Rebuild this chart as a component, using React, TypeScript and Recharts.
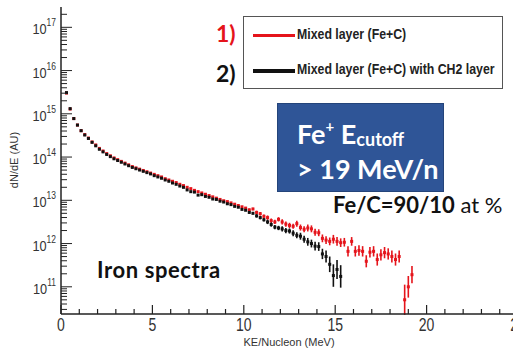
import { ComposedChart, ErrorBar, Scatter, XAxis, YAxis } from 'recharts'

// KE per nucleon (MeV) bins
const blackEnergy = [
  0.3, 0.5, 0.7, 0.9, 1.1, 1.3, 1.5, 1.7, 1.9, 2.1, 2.3, 2.5, 2.7, 2.9, 3.1, 3.3, 3.5, 3.7, 3.9, 4.1,
  4.3, 4.5, 4.7, 4.9, 5.1, 5.3, 5.5, 5.7, 5.9, 6.1, 6.3, 6.5, 6.7, 6.9, 7.1, 7.3, 7.5, 7.7, 7.9, 8.1,
  8.3, 8.5, 8.7, 8.9, 9.1, 9.3, 9.5, 9.7, 9.9, 10.1, 10.3, 10.5, 10.7, 10.9, 11.1, 11.3, 11.5, 11.7,
  11.9, 12.1, 12.3, 12.5, 12.7, 12.9, 13.1, 13.3, 13.5, 13.7, 13.9, 14.1, 14.3, 14.5, 14.7, 14.9,
  15.1, 15.3,
]
// log10(dN/dE), mixed layer with CH2 layer
const blackLog = [
  15.49, 15.12, 14.89, 14.74, 14.61, 14.51, 14.43, 14.34, 14.26, 14.18, 14.12, 14.06, 14.01, 13.96,
  13.92, 13.88, 13.84, 13.8, 13.76, 13.73, 13.7, 13.67, 13.64, 13.61, 13.57, 13.54, 13.51, 13.47,
  13.44, 13.4, 13.37, 13.33, 13.3, 13.24, 13.2, 13.19, 13.12, 13.13, 13.09, 13.07, 13.03, 13.02,
  12.98, 12.96, 12.92, 12.9, 12.86, 12.84, 12.79, 12.77, 12.72, 12.7, 12.64, 12.6, 12.55, 12.5,
  12.44, 12.38, 12.36, 12.34, 12.3, 12.29, 12.24, 12.19, 12.17, 12.1, 12.04, 12.0, 11.94, 11.93,
  11.76, 11.7, 11.52, 11.26, 11.4, 11.24,
]
// error half-width in decades
const blackErr = [
  0, 0, 0, 0, 0, 0, 0, 0, 0, 0, 0, 0, 0, 0, 0, 0, 0, 0, 0, 0, 0, 0, 0, 0, 0, 0, 0, 0, 0, 0, 0, 0,
  0, 0, 0, 0, 0, 0, 0, 0, 0, 0, 0, 0, 0, 0, 0, 0, 0, 0, 0.03, 0.03, 0.04, 0.04, 0.04, 0.05, 0.05,
  0.05, 0.05, 0.06, 0.06, 0.06, 0.07, 0.07, 0.08, 0.08, 0.09, 0.09, 0.1, 0.1, 0.12, 0.14, 0.18,
  0.26, 0.22, 0.26,
]

const redEnergy = [
  0.3, 0.5, 0.7, 0.9, 1.1, 1.3, 1.5, 1.7, 1.9, 2.1, 2.3, 2.5, 2.7, 2.9, 3.1, 3.3, 3.5, 3.7, 3.9, 4.1,
  4.3, 4.5, 4.7, 4.9, 5.1, 5.3, 5.5, 5.7, 5.9, 6.1, 6.3, 6.5, 6.7, 6.9, 7.1, 7.3, 7.5, 7.7, 7.9, 8.1,
  8.3, 8.5, 8.7, 8.9, 9.1, 9.3, 9.5, 9.7, 9.9, 10.1, 10.3, 10.5, 10.7, 10.9, 11.1, 11.3, 11.5, 11.7,
  11.9, 12.1, 12.3, 12.5, 12.7, 12.9, 13.1, 13.3, 13.5, 13.7, 13.9, 14.1, 14.3, 14.5, 14.7, 14.9,
  15.1, 15.3, 15.5, 15.7, 15.9, 16.1, 16.3, 16.5, 16.7, 16.9, 17.1, 17.3, 17.5, 17.7, 17.9, 18.1,
  18.3, 18.5, 18.8, 19.0, 19.2,
]
// log10(dN/dE), mixed layer (Fe+C)
const redLog = [
  15.48, 15.11, 14.89, 14.74, 14.61, 14.52, 14.44, 14.35, 14.28, 14.2, 14.14, 14.08, 14.03, 13.98,
  13.94, 13.9, 13.86, 13.82, 13.78, 13.75, 13.72, 13.69, 13.66, 13.63, 13.6, 13.57, 13.54, 13.5,
  13.47, 13.44, 13.41, 13.37, 13.34, 13.3, 13.27, 13.23, 13.2, 13.17, 13.14, 13.11, 13.08, 13.05,
  13.02, 12.99, 12.97, 12.94, 12.91, 12.88, 12.85, 12.82, 12.78, 12.8, 12.72, 12.69, 12.63, 12.6,
  12.53, 12.5, 12.56, 12.5, 12.45, 12.42, 12.4, 12.46, 12.37, 12.33, 12.36, 12.34, 12.26, 12.25,
  12.12, 12.08, 12.05, 12.1, 12.05, 12.02, 12.03, 11.82, 12.05, 11.82, 11.84, 11.82, 11.59, 11.8,
  11.82, 11.63, 11.74, 11.79, 11.76, 11.7, 11.63, 11.7, 10.7, 11.0, 11.28,
]
const redErr = [
  0, 0, 0, 0, 0, 0, 0, 0, 0, 0, 0, 0, 0, 0, 0, 0, 0, 0, 0, 0, 0, 0, 0, 0, 0, 0, 0, 0, 0, 0, 0, 0,
  0, 0, 0, 0, 0, 0, 0, 0, 0, 0, 0, 0, 0, 0, 0, 0, 0, 0, 0.03, 0.03, 0.04, 0.04, 0.04, 0.05, 0.05,
  0.05, 0.05, 0.06, 0.06, 0.06, 0.06, 0.07, 0.07, 0.07, 0.08, 0.08, 0.08, 0.08, 0.09, 0.09, 0.09,
  0.1, 0.1, 0.1, 0.1, 0.12, 0.1, 0.12, 0.12, 0.12, 0.14, 0.12, 0.12, 0.14, 0.13, 0.13, 0.13, 0.14,
  0.14, 0.14, 0.35, 0.25, 0.2,
]

const xTicks = [0, 1, 2, 3, 4, 5, 6, 7, 8, 9, 10, 11, 12, 13, 14, 15, 16, 17, 18, 19, 20, 21, 22, 23, 24, 25]
const decades = [10, 11, 12, 13, 14, 15, 16, 17]
const minorSteps = [1, 2, 3, 4, 5, 6, 7, 8, 9]
const yDomain = [2.35e10, 2.95e17]

const RED = '#e5141b'
const BLACK = '#111'
const AXIS = '#222'

function toPoints(energy: number[], logs: number[], errs: number[]) {
  return energy.map((x, i) => {
    const y = Math.pow(10, logs[i])
    const e = errs[i]
    return { x, y, err: [y - y * Math.pow(10, -e), y * Math.pow(10, e) - y] }
  })
}

const redData = toPoints(redEnergy, redLog, redErr)
const blackData = toPoints(blackEnergy, blackLog, blackErr)

const yTicks: number[] = []
decades.forEach((d) =>
  minorSteps.forEach((m) => {
    const v = m * Math.pow(10, d)
    if (v >= yDomain[0] && v <= yDomain[1]) yTicks.push(v)
  })
)

const tickFont = "'Liberation Sans', Arial, sans-serif"
const noteFont = "Lato, 'Open Sans', sans-serif"

function XTick({ x, y, payload }: any) {
  const major = payload.value % 5 === 0
  return (
    <g>
      <line x1={x} x2={x} y1={y} y2={y - (major ? 9 : 5)} stroke={AXIS} strokeWidth={1.2} />
      {major && (
        <text
          transform={`translate(${x},${y + 17}) scale(0.78,1)`}
          textAnchor="middle"
          fontSize={18}
          fill="#333"
          fontFamily={tickFont}
        >
          {payload.value}
        </text>
      )}
    </g>
  )
}

function YTick({ x, y, payload }: any) {
  const exp = Math.log10(payload.value)
  const major = Math.abs(exp - Math.round(exp)) < 1e-6
  return (
    <g>
      <line x1={x} x2={x + (major ? 11 : 6)} y1={y} y2={y} stroke={AXIS} strokeWidth={1} />
      {major && (
        <text
          transform={`translate(${x - 5},${y + 7}) scale(0.85,1)`}
          textAnchor="end"
          fontSize={15}
          fill="#333"
          fontFamily={tickFont}
        >
          10
          <tspan dy={-8} fontSize={10}>
            {Math.round(exp)}
          </tspan>
        </text>
      )}
    </g>
  )
}

const dot = (color: string) => (p: any) => (
  <rect x={p.cx - 1.5} y={p.cy - 1.5} width={3} height={3} fill={color} />
)

const legendText = {
  position: 'absolute' as const,
  left: 297,
  fontFamily: tickFont,
  fontWeight: 700,
  fontSize: 14,
  color: '#222',
  whiteSpace: 'nowrap' as const,
  transform: 'scaleX(0.88)',
  transformOrigin: 'left center',
}

export default function App() {
  return (
    <div
      style={{
        position: 'absolute',
        left: 0,
        top: 0,
        width: 513,
        height: 351,
        overflow: 'hidden',
        background: '#fff',
      }}
    >
      <ComposedChart width={530} height={351} margin={{ top: 7, right: 12, bottom: 0, left: 0 }}>
        <XAxis
          type="number"
          dataKey="x"
          domain={[0, 25]}
          ticks={xTicks}
          interval={0}
          tick={<XTick />}
          tickLine={false}
          tickSize={0}
          tickMargin={0}
          height={37}
          stroke={AXIS}
          strokeWidth={1.5}
          allowDataOverflow
        />
        <XAxis
          xAxisId="top"
          orientation="top"
          type="number"
          domain={[0, 25]}
          tick={false}
          tickLine={false}
          height={0}
          stroke={AXIS}
          strokeWidth={1.5}
        />
        <YAxis
          type="number"
          dataKey="y"
          scale="log"
          domain={yDomain}
          ticks={yTicks}
          interval={0}
          tick={<YTick />}
          tickLine={false}
          tickSize={0}
          tickMargin={0}
          width={61}
          stroke={AXIS}
          strokeWidth={1.5}
          allowDataOverflow
        />
        <Scatter data={redData} shape={dot(RED)} isAnimationActive={false}>
          <ErrorBar dataKey="err" direction="y" width={0} stroke={RED} strokeWidth={1.6} isAnimationActive={false} />
        </Scatter>
        <Scatter data={blackData} shape={dot(BLACK)} isAnimationActive={false}>
          <ErrorBar dataKey="err" direction="y" width={0} stroke={BLACK} strokeWidth={1.6} isAnimationActive={false} />
        </Scatter>
      </ComposedChart>

      {/* axis titles */}
      <div
        style={{
          position: 'absolute',
          left: 14,
          top: 160,
          transform: 'translate(-50%, -50%) rotate(-90deg)',
          fontFamily: tickFont,
          fontSize: 11,
          color: '#333',
          whiteSpace: 'nowrap',
        }}
      >
        dN/dE (AU)
      </div>
      <div
        style={{
          position: 'absolute',
          left: 289,
          top: 336,
          transform: 'translateX(-50%)',
          fontFamily: tickFont,
          fontSize: 11,
          color: '#333',
          whiteSpace: 'nowrap',
        }}
      >
        KE/Nucleon (MeV)
      </div>

      {/* legend */}
      <div
        style={{
          position: 'absolute',
          left: 243,
          top: 16,
          width: 258,
          height: 71,
          border: '1px solid #555',
          background: '#fff',
        }}
      />
      <div style={{ position: 'absolute', left: 253, top: 34, width: 42, height: 3, background: RED }} />
      <div style={{ position: 'absolute', left: 253, top: 69, width: 42, height: 4, background: BLACK }} />
      <div style={{ ...legendText, top: 26 }}>Mixed layer (Fe+C)</div>
      <div style={{ ...legendText, top: 61 }}>Mixed layer (Fe+C) with CH2 layer</div>
      <div
        style={{
          position: 'absolute',
          left: 216,
          top: 22,
          fontFamily: noteFont,
          fontWeight: 700,
          fontSize: 23,
          color: RED,
          lineHeight: 1,
        }}
      >
        1)
      </div>
      <div
        style={{
          position: 'absolute',
          left: 216,
          top: 62,
          fontFamily: noteFont,
          fontWeight: 700,
          fontSize: 23,
          color: '#111',
          lineHeight: 1,
        }}
      >
        2)
      </div>

      {/* cutoff box */}
      <div
        style={{
          position: 'absolute',
          left: 277,
          top: 103,
          width: 165,
          height: 87,
          background: '#2f5597',
          border: '1px solid #24447a',
          color: '#fff',
          fontFamily: noteFont,
          fontWeight: 700,
          fontSize: 27,
          lineHeight: 1,
        }}
      >
        <div style={{ position: 'absolute', left: 19, top: 16, whiteSpace: 'nowrap' }}>
          Fe<sup style={{ fontSize: 15, verticalAlign: 'top', position: 'relative', top: -1 }}>+</sup> E
          <sub style={{ fontSize: 18, position: 'relative', top: 2, verticalAlign: 'baseline' }}>cutoff</sub>
        </div>
        <div style={{ position: 'absolute', left: 19, top: 51, whiteSpace: 'nowrap' }}>&gt; 19 MeV/n</div>
      </div>

      <div
        style={{
          position: 'absolute',
          left: 333,
          top: 194,
          fontFamily: noteFont,
          fontSize: 22,
          color: '#111',
          lineHeight: 1,
          whiteSpace: 'nowrap',
        }}
      >
        <b>Fe/C=90/10</b> at %
      </div>
      <div
        style={{
          position: 'absolute',
          left: 97,
          top: 259,
          fontFamily: noteFont,
          fontWeight: 700,
          fontSize: 22,
          letterSpacing: 0.6,
          color: '#111',
          lineHeight: 1,
          whiteSpace: 'nowrap',
        }}
      >
        Iron spectra
      </div>
    </div>
  )
}
